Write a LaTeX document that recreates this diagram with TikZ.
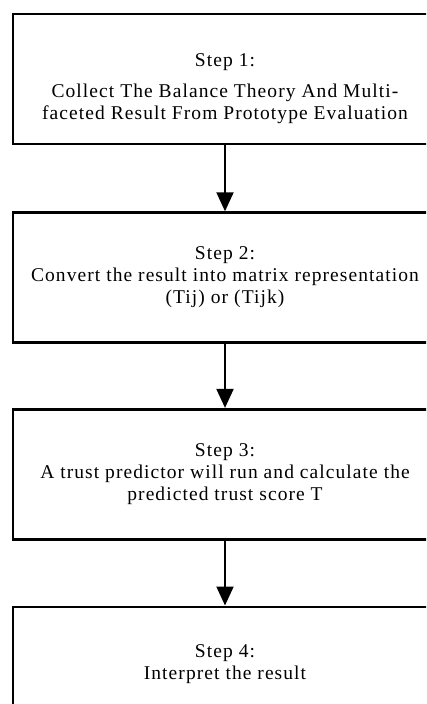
\documentclass[tikz,border=0pt]{standalone}
\usepackage{fontspec}
\setmainfont{Liberation Serif}[LetterSpace=5.5]
\usetikzlibrary{positioning,arrows.meta}
\begin{document}
\begin{tikzpicture}[x=1pt,y=1pt,font=\fontsize{19.5}{22}\selectfont,
	stepbox/.style={draw,line width=2.6pt,minimum width=424pt,minimum height=130pt,align=center,inner sep=0pt},
	flow/.style={line width=2pt,-{Triangle[width=17pt,length=19pt]}}]
	\path[use as bounding box,clip] (0,0) rectangle (426,-704);
	\node[stepbox] (S1) at (225,-79) {\rule{0pt}{33pt}Step 1:\\[9pt] Collect The Balance Theory And Multi-\\ faceted Result From Prototype Evaluation};
	\node[stepbox,below=66pt of S1] (S2) {Step 2:\\ Convert the result into matrix representation\\ (Tij) or (Tijk)};
	\node[stepbox,below=64pt of S2] (S3) {Step 3:\\ A trust predictor will run and calculate the\\ predicted trust score T};
	\node[stepbox,below=65pt of S3] (S4) {Step 4:\\ Interpret the result\rule[-20pt]{0pt}{20pt}};
	\foreach \a/\b in {S1/S2,S2/S3,S3/S4}{
		\draw[flow] (\a.south)--(\b.north);
	}
\end{tikzpicture}
\end{document}
